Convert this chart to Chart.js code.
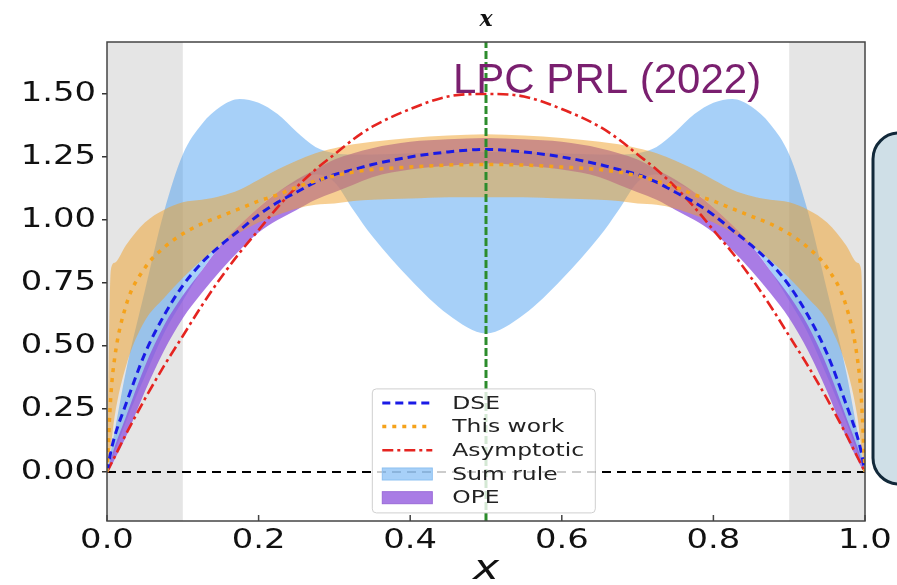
<!DOCTYPE html>
<html>
<head>
<meta charset="utf-8">
<script src="https://cdn.jsdelivr.net/npm/chart.js@4.4.0/dist/chart.umd.min.js"></script>
<style>
  html, body { margin: 0; padding: 0; background: #fff; overflow: hidden; }
</style>
</head>
<body>
<canvas id="chart" width="897" height="585"></canvas>
<script>
// --- data (curves are symmetric about x = 0.5) ---
const xGrid = [0, 0.005, 0.01, 0.025, 0.05, 0.075, 0.1, 0.125, 0.15, 0.175, 0.2, 0.225, 0.25, 0.275, 0.3, 0.325, 0.35, 0.4, 0.45, 0.5,
  0.55, 0.6, 0.65, 0.675, 0.7, 0.725, 0.75, 0.775, 0.8, 0.825, 0.85, 0.875, 0.9, 0.925, 0.95, 0.975, 0.99, 0.995, 1];

const asymVals = [0, 0.03, 0.06, 0.15, 0.29, 0.42, 0.54, 0.66, 0.77, 0.87, 0.96, 1.05, 1.13, 1.2, 1.26, 1.32, 1.37, 1.44, 1.49, 1.5,
  1.49, 1.44, 1.37, 1.32, 1.26, 1.2, 1.13, 1.05, 0.96, 0.87, 0.77, 0.66, 0.54, 0.42, 0.29, 0.15, 0.06, 0.03, 0];
const dseVals = [0, 0.08, 0.14, 0.27, 0.47, 0.62, 0.74, 0.83, 0.9, 0.96, 1.02, 1.07, 1.11, 1.15, 1.18, 1.2, 1.22, 1.25, 1.27, 1.28,
  1.27, 1.25, 1.22, 1.2, 1.18, 1.15, 1.11, 1.07, 1.02, 0.96, 0.9, 0.83, 0.74, 0.62, 0.47, 0.27, 0.14, 0.08, 0];
const workVals = [0, 0.3, 0.45, 0.66, 0.81, 0.89, 0.945, 0.985, 1.015, 1.045, 1.075, 1.1, 1.13, 1.155, 1.175, 1.19, 1.2, 1.21, 1.218, 1.22,
  1.218, 1.21, 1.2, 1.19, 1.175, 1.155, 1.13, 1.1, 1.075, 1.045, 1.015, 0.985, 0.945, 0.89, 0.81, 0.66, 0.45, 0.3, 0];
const workHi = [0, 0.8, 0.83, 0.9, 0.99, 1.04, 1.07, 1.08, 1.095, 1.12, 1.16, 1.2, 1.235, 1.265, 1.285, 1.3, 1.31, 1.325, 1.335, 1.34,
  1.335, 1.325, 1.31, 1.3, 1.285, 1.265, 1.235, 1.2, 1.16, 1.12, 1.095, 1.08, 1.07, 1.04, 0.99, 0.9, 0.83, 0.8, 0];
const workLo = [0, 0.1, 0.22, 0.42, 0.6, 0.69, 0.77, 0.84, 0.9, 0.95, 0.99, 1.02, 1.045, 1.06, 1.065, 1.075, 1.08, 1.085, 1.09, 1.09,
  1.09, 1.085, 1.08, 1.075, 1.065, 1.06, 1.045, 1.02, 0.99, 0.95, 0.9, 0.84, 0.77, 0.69, 0.6, 0.42, 0.22, 0.1, 0];
const sumHi = [0, 0.08, 0.16, 0.4, 0.72, 1.03, 1.26, 1.38, 1.45, 1.48, 1.465, 1.42, 1.35, 1.29, 1.265, 1.26, 1.26, 1.265, 1.27, 1.27,
  1.27, 1.265, 1.26, 1.26, 1.265, 1.29, 1.35, 1.42, 1.465, 1.48, 1.45, 1.38, 1.26, 1.03, 0.72, 0.4, 0.16, 0.08, 0];
const sumLo = [0, 0.04, 0.08, 0.2, 0.38, 0.55, 0.68, 0.8, 0.9, 0.98, 1.05, 1.11, 1.15, 1.18, 1.15, 1.04, 0.935, 0.765, 0.625, 0.55,
  0.625, 0.765, 0.935, 1.04, 1.15, 1.18, 1.15, 1.11, 1.05, 0.98, 0.9, 0.8, 0.68, 0.55, 0.38, 0.2, 0.08, 0.04, 0];
const opeHi = [0, 0.05, 0.1, 0.22, 0.42, 0.58, 0.7, 0.8, 0.9, 0.98, 1.05, 1.11, 1.16, 1.2, 1.24, 1.265, 1.285, 1.31, 1.32, 1.325,
  1.32, 1.31, 1.285, 1.265, 1.24, 1.2, 1.16, 1.11, 1.05, 0.98, 0.9, 0.8, 0.7, 0.58, 0.42, 0.22, 0.1, 0.05, 0];
const opeLo = [0, 0.02, 0.05, 0.14, 0.32, 0.48, 0.61, 0.71, 0.8, 0.88, 0.95, 1.0, 1.04, 1.08, 1.11, 1.14, 1.17, 1.2, 1.215, 1.225,
  1.215, 1.2, 1.17, 1.14, 1.11, 1.08, 1.04, 1.0, 0.95, 0.88, 0.8, 0.71, 0.61, 0.48, 0.32, 0.14, 0.05, 0.02, 0];

const xTickVals = [0, 0.2, 0.4, 0.6, 0.8, 1.0];
const xTickLabels = ["0.0", "0.2", "0.4", "0.6", "0.8", "1.0"];
const yTickVals = [0, 0.25, 0.5, 0.75, 1.0, 1.25, 1.5];
const yTickLabels = ["0.00", "0.25", "0.50", "0.75", "1.00", "1.25", "1.50"];
const xRange = [0, 1];
const yRange = [-0.194, 1.706];
const shadeBands = [[0, 0.1], [0.9, 1]];
const markerX = 0.5;
const legendEntries = ["DSE", "This work", "Asymptotic", "Sum rule", "OPE"];

const pts = (vals) => xGrid.map((x, i) => ({ x: x, y: vals[i] }));

// --- datasets: first index is drawn on top ---
const curve = { pointRadius: 0, fill: false, cubicInterpolationMode: "monotone" };
const band = { pointRadius: 0, borderWidth: 0, borderColor: "rgba(0,0,0,0)", cubicInterpolationMode: "monotone" };

const datasets = [
  { label: "marker", data: [{ x: markerX, y: yRange[0] }, { x: markerX, y: yRange[1] }], pointRadius: 0, fill: false,
    borderColor: "#2c8c2c", borderWidth: 3, borderDash: [8, 3] },
  { ...curve, label: "This work", data: pts(workVals), borderColor: "#f5a21b", borderWidth: 3.5, borderDash: [4, 6] },
  { ...curve, label: "DSE", data: pts(dseVals), borderColor: "#1a1ae6", borderWidth: 3, borderDash: [8, 5] },
  { ...curve, label: "Asymptotic", data: pts(asymVals), borderColor: "#e52420", borderWidth: 2.6, borderDash: [11, 4, 3, 4] },
  { label: "zero", data: [{ x: xRange[0], y: 0 }, { x: xRange[1], y: 0 }], pointRadius: 0, fill: false,
    borderColor: "#000", borderWidth: 2, borderDash: [9, 6] },
  { ...band, label: "This work band", data: pts(workHi), fill: "+1", backgroundColor: "rgba(240,160,40,0.5)" },
  { ...band, label: "work lo", data: pts(workLo), fill: false },
  { ...band, label: "OPE", data: pts(opeHi), fill: "+1", backgroundColor: "rgba(140,80,220,0.75)", legendEdge: "#9a6ad8" },
  { ...band, label: "ope lo", data: pts(opeLo), fill: false },
  { ...band, label: "Sum rule", data: pts(sumHi), fill: "+1", backgroundColor: "rgba(60,150,240,0.45)", legendEdge: "#8cc0f0" },
  { ...band, label: "sum lo", data: pts(sumLo), fill: false },
];

// the source figure was stretched sideways, so its text is wide
const stretch = 1.3;

function drawLegend(chart) {
  const { ctx, scales: { x, y } } = chart;
  const left = x.getPixelForValue(0.35), top = y.getPixelForValue(0.33);
  const w = 223, h = 124;
  ctx.save();
  ctx.fillStyle = "rgba(255,255,255,0.8)";
  ctx.strokeStyle = "#cfcfcf";
  ctx.lineWidth = 1;
  ctx.beginPath();
  ctx.roundRect(left, top, w, h, 4);
  ctx.fill();
  ctx.stroke();
  legendEntries.forEach((name, i) => {
    const ds = chart.data.datasets.find((d) => d.label === name);
    const cy = top + 14 + i * 23.7;
    const sx = left + 10, sw = 50;
    if (ds.fill === "+1") {
      ctx.fillStyle = ds.backgroundColor;
      ctx.fillRect(sx, cy - 6, sw, 12);
      ctx.strokeStyle = ds.legendEdge;
      ctx.lineWidth = 1;
      ctx.strokeRect(sx, cy - 6, sw, 12);
    } else {
      ctx.setLineDash(ds.borderDash);
      ctx.strokeStyle = ds.borderColor;
      ctx.lineWidth = ds.borderWidth;
      ctx.beginPath();
      ctx.moveTo(sx, cy);
      ctx.lineTo(sx + sw, cy);
      ctx.stroke();
      ctx.setLineDash([]);
    }
    ctx.save();
    ctx.translate(left + 80, cy);
    ctx.scale(stretch, 1);
    ctx.font = '18px "DejaVu Sans"';
    ctx.fillStyle = "#222";
    ctx.textBaseline = "middle";
    ctx.fillText(name, 0, 1);
    ctx.restore();
  });
  ctx.restore();
}

const decor = {
  id: "decor",
  beforeDraw(chart) {
    // axis labels are drawn by Chart.js at a translated origin: widen them there
    const ctx = chart.ctx;
    const orig = CanvasRenderingContext2D.prototype.fillText;
    ctx.fillText = function (t, px, py) {
      this.save();
      this.scale(stretch, 1);
      orig.call(this, t, px / stretch, py);
      this.restore();
    };
  },
  beforeDatasetsDraw(chart) {
    const { ctx, chartArea: a, scales: { x } } = chart;
    delete ctx.fillText;
    ctx.save();
    ctx.fillStyle = "#e5e5e5";
    shadeBands.forEach(([x0, x1]) => {
      const p0 = x.getPixelForValue(x0), p1 = x.getPixelForValue(x1);
      ctx.fillRect(p0, a.top, p1 - p0, a.bottom - a.top);
    });
    ctx.restore();
  },
  afterDatasetsDraw(chart) {
    const { ctx, chartArea: a, scales: { x } } = chart;
    ctx.save();
    ctx.strokeStyle = "#444";
    ctx.lineWidth = 1.5;
    ctx.strokeRect(a.left, a.top, a.right - a.left, a.bottom - a.top);
    // tick marks on the bottom axis point inward
    xTickVals.forEach((v) => {
      const px = x.getPixelForValue(v);
      ctx.beginPath();
      ctx.moveTo(px, a.bottom);
      ctx.lineTo(px, a.bottom - 6);
      ctx.stroke();
    });
    ctx.restore();
  },
  afterDraw(chart) {
    const { ctx, chartArea: a, scales: { x } } = chart;
    drawLegend(chart);
    ctx.save();
    ctx.font = 'italic bold 22px "DejaVu Serif"';
    ctx.fillStyle = "#111";
    ctx.textAlign = "center";
    ctx.textBaseline = "middle";
    ctx.fillText("x", x.getPixelForValue(markerX), 20);
    ctx.font = '42px "Liberation Sans"';
    ctx.fillStyle = "#7a1f6f";
    ctx.textAlign = "left";
    ctx.textBaseline = "alphabetic";
    ctx.fillText("LPC PRL (2022)", 453, 93);
    // box cut by the right edge
    ctx.fillStyle = "#cfdfe7";
    ctx.strokeStyle = "#12293a";
    ctx.lineWidth = 3;
    ctx.beginPath();
    ctx.roundRect(a.right + 8, 133, 70, 351, 26);
    ctx.fill();
    ctx.stroke();
    ctx.restore();
  },
};

new Chart(document.getElementById("chart").getContext("2d"), {
  type: "line",
  data: { datasets: datasets },
  plugins: [decor],
  options: {
    responsive: false,
    animation: false,
    layout: { padding: { left: 0, right: 32, top: 42, bottom: 0 } },
    plugins: { legend: { display: false }, tooltip: { enabled: false } },
    scales: {
      x: {
        type: "linear",
        min: xRange[0],
        max: xRange[1],
        afterBuildTicks: (s) => { s.ticks = xTickVals.map((v) => ({ value: v })); },
        afterFit: (s) => { s.height = 64; },
        grid: { display: false, drawTicks: false },
        border: { display: false },
        ticks: {
          padding: 5,
          color: "#111",
          font: { family: "DejaVu Sans", size: 26 },
          maxRotation: 0,
          callback: (v, i) => xTickLabels[i],
        },
        title: {
          display: true,
          text: "x",
          color: "#111",
          font: { family: "DejaVu Sans", size: 34, style: "italic", lineHeight: 0.9 },
          padding: { top: 0, bottom: 0 },
        },
      },
      y: {
        type: "linear",
        min: yRange[0],
        max: yRange[1],
        afterBuildTicks: (s) => { s.ticks = yTickVals.map((v) => ({ value: v })); },
        afterFit: (s) => { s.width = 107; },
        grid: { display: true, drawOnChartArea: false, drawTicks: true, tickLength: 5, color: "#333", lineWidth: 1.5 },
        border: { display: false },
        ticks: {
          padding: 6,
          color: "#111",
          font: { family: "DejaVu Sans", size: 26 },
          callback: (v, i) => yTickLabels[i],
        },
      },
    },
  },
});
</script>
</body>
</html>
